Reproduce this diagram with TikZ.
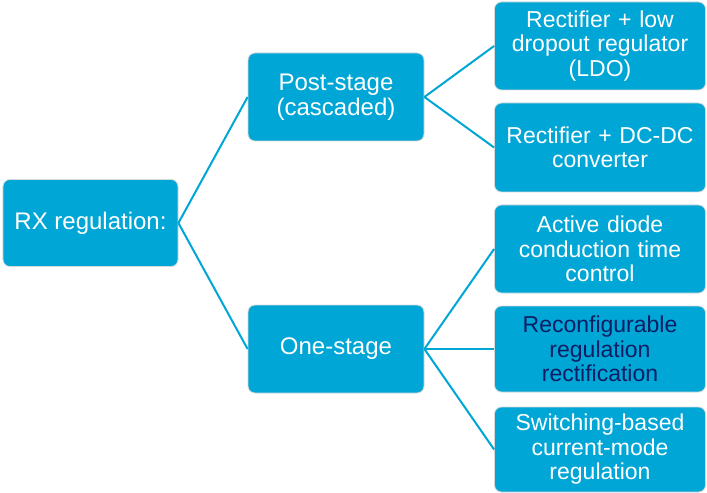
\documentclass[tikz,border=0pt]{standalone}
\usepackage{fontspec}
\setmainfont{Liberation Sans}
\definecolor{boxblue}{RGB}{0,166,214}
\definecolor{navytext}{RGB}{14,30,100}
\definecolor{rimgray}{RGB}{215,215,215}
\begin{document}
\begin{tikzpicture}[x=1bp,y=-1bp,
  box/.style={rectangle, rounded corners=7bp, fill=boxblue, draw=rimgray, line width=0.8bp,
    text=white, align=center, font=\fontsize{23bp}{24.5bp}\selectfont, inner sep=0pt},
  leftbox/.style={box, minimum width=175bp, minimum height=87bp, font=\fontsize{24bp}{25.5bp}\selectfont},
  rightbox/.style={box, minimum width=211bp, text width=205bp},
  link/.style={draw=boxblue, line width=2bp}]
\useasboundingbox (0,0) rectangle (707,493);
\node[leftbox] (rx) at (90.5,223) {RX regulation:};
\node[leftbox, minimum width=176bp, minimum height=88bp] (post) at (336,97) {Post-stage\\(cascaded)};
\node[leftbox, minimum width=176bp, minimum height=88bp] (one) at (336,349) {One-stage};
\node[rightbox, minimum height=88bp] (ldo) at (600,46) {Rectifier + low\\dropout regulator\\(LDO)};
\node[rightbox, minimum height=89bp] (dcdc) at (600,147.5) {Rectifier + DC-DC\\converter};
\node[rightbox, minimum height=88bp] (active) at (600,249) {Active diode\\conduction time\\control};
\node[rightbox, minimum height=86bp, text=navytext] (reconf) at (600,349) {Reconfigurable\\regulation\\rectification};
\node[rightbox, minimum height=85bp] (switch) at (600,449.5) {Switching-based\\current-mode\\regulation};
\draw[link] (rx.east) -- (post.west);
\draw[link] (rx.east) -- (one.west);
\draw[link] (post.east) -- (ldo.west);
\draw[link] (post.east) -- (dcdc.west);
\draw[link] (one.east) -- (active.west);
\draw[link] (one.east) -- (reconf.west);
\draw[link] (one.east) -- (switch.west);
\end{tikzpicture}
\end{document}
